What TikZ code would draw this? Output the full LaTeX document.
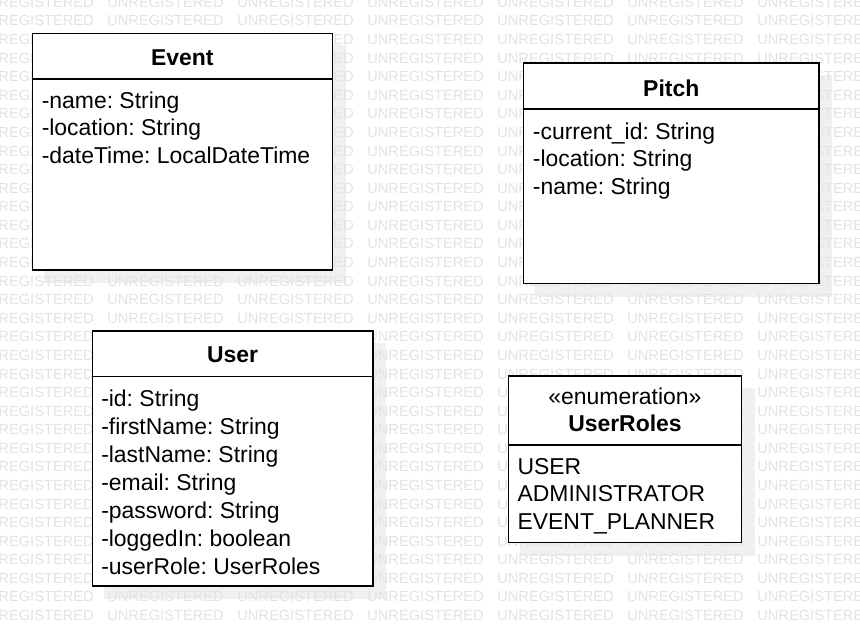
\documentclass[tikz,border=0pt]{standalone}
\usepackage{fontspec}
\setmainfont{Liberation Sans}
\usetikzlibrary{backgrounds}
\frenchspacing

\tikzset{
    classbox/.style={draw=black, fill=white, line width=1.3pt, inner sep=0pt, anchor=north west},
    classline/.style={draw=black, line width=1.3pt},
    classtitle/.style={font=\fontsize{17.2}{21}\selectfont\bfseries, inner sep=0pt, anchor=base},
    classstereo/.style={font=\fontsize{17.2}{21}\selectfont, inner sep=0pt, anchor=base},
    classattr/.style={font=\fontsize{17.2}{21}\selectfont, inner sep=0pt, anchor=base west},
    shadowbox/.style={fill=black!6},
    watermark/.style={font=\fontsize{11}{13}\selectfont, text=black!11, inner sep=0pt, anchor=base west}
}

\begin{document}
\begin{tikzpicture}[x=0.75pt, y=-0.75pt]
        \useasboundingbox (0,0) rectangle (860,626);

        % Классы
        \node[classbox, minimum width=225pt, minimum height=177.4pt] (event) at (31.5,32.5) {};
        \node[classbox, minimum width=221.5pt, minimum height=165.3pt] (pitch) at (522.7,62.3) {};
        \node[classbox, minimum width=210.4pt, minimum height=191.25pt] (user) at (91.5,330) {};
        \node[classbox, minimum width=174.9pt, minimum height=125pt] (roles) at (507.5,375) {};

        % Разделители заголовков
        \draw[classline] (event.west |- 0,79.3) -- (event.east |- 0,79.3);
        \draw[classline] (pitch.west |- 0,109.3) -- (pitch.east |- 0,109.3);
        \draw[classline] (user.west |- 0,376.5) -- (user.east |- 0,376.5);
        \draw[classline] (roles.west |- 0,445) -- (roles.east |- 0,445);

        % Заголовки
        \node[classtitle] (event-title) at (event.north |- 0,65.7) {Event};
        \node[classtitle] (pitch-title) at (pitch.north |- 0,96.7) {Pitch};
        \node[classtitle] (user-title) at (user.north |- 0,362.7) {User};
        \node[classstereo] (roles-stereo) at (roles.north |- 0,404.3) {«enumeration»};
        \node[classtitle] (roles-title) at (roles.north |- 0,431.7) {UserRoles};

        % Атрибуты
        \foreach \attr [count=\i] in {-name: String, -location: String, -dateTime: LocalDateTime}
            \node[classattr] (event-attr\i) at (41.5,{108.3+27.5*(\i-1)}) {\attr};
        \foreach \attr [count=\i] in {-current\_id: String, -location: String, -name: String}
            \node[classattr] (pitch-attr\i) at (532.7,{139.3+27.4*(\i-1)}) {\attr};
        \foreach \attr [count=\i] in {-id: String, -firstName: String, -lastName: String,
                -email: String, -password: String, -loggedIn: boolean, -userRole: UserRoles}
            \node[classattr] (user-attr\i) at (101,{406+28*(\i-1)}) {\attr};
        \foreach \attr [count=\i] in {USER, ADMINISTRATOR, EVENT\_PLANNER}
            \node[classattr] (roles-attr\i) at (517.3,{474.3+27.35*(\i-1)}) {\attr};

        \begin{pgfonlayer}{background}
            \fill[white] (0,0) rectangle (860,626);

            % Тени
            \foreach \cls in {event, pitch, user, roles}
                \fill[shadowbox] ([shift={(12.5,12.5)}]\cls.north west) rectangle ([shift={(12.5,12.5)}]\cls.south east);

            % Водяной знак
            \foreach \row in {0,...,33}
                \foreach \col in {0,...,6}
                    \node[watermark] (wm-\row-\col) at ({-23+130*\col},{7.4+18.58*\row}) {UNREGISTERED};
        \end{pgfonlayer}
    \end{tikzpicture}
\end{document}
